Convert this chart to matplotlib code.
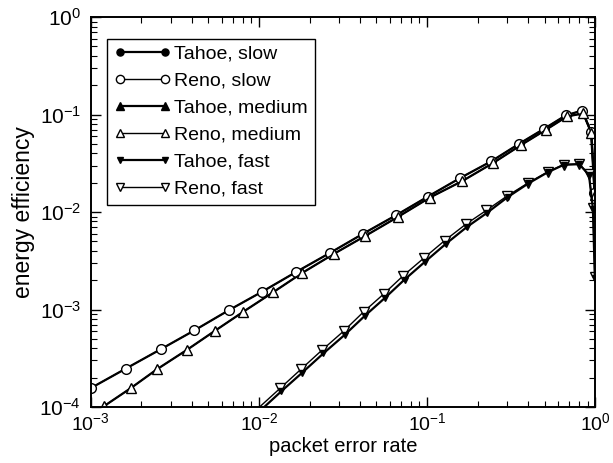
import matplotlib
matplotlib.use("Agg")
import matplotlib.pyplot as plt

plt.rcParams['font.family'] = ['Liberation Sans', 'DejaVu Sans']
plt.rcParams['mathtext.default'] = 'regular'

# valores (eixos log-log)
reno_slow_x = [1.0e-3, 1.62e-3, 2.6e-3, 4.13e-3, 6.6e-3, 1.05e-2, 1.66e-2, 2.64e-2, 4.17e-2,
               6.56e-2, 0.101, 0.157, 0.241, 0.351, 0.497, 0.667, 0.834, 0.944, 0.99]
reno_slow_y = [1.56e-4, 2.48e-4, 3.9e-4, 6.1e-4, 9.8e-4, 1.53e-3, 2.42e-3, 3.8e-3, 6.0e-3,
               9.3e-3, 1.44e-2, 2.23e-2, 3.32e-2, 4.99e-2, 7.16e-2, 9.8e-2, 0.110, 0.067, 0.0158]

# Tahoe slow fica escondido debaixo de Reno slow
tahoe_slow_x = reno_slow_x
tahoe_slow_y = reno_slow_y

reno_med_x = [1.2e-3, 1.73e-3, 2.48e-3, 3.73e-3, 5.48e-3, 8.05e-3, 1.22e-2, 1.80e-2, 2.79e-2,
              4.3e-2, 6.7e-2, 0.104, 0.162, 0.248, 0.36, 0.51, 0.68, 0.85, 0.95, 0.995]
reno_med_y = [1.02e-4, 1.56e-4, 2.44e-4, 3.85e-4, 6.05e-4, 9.45e-4, 1.51e-3, 2.36e-3, 3.72e-3,
              5.7e-3, 8.9e-3, 1.41e-2, 2.08e-2, 3.2e-2, 4.84e-2, 7.0e-2, 9.57e-2, 0.103, 0.064, 0.0151]

tahoe_med_x = reno_med_x
tahoe_med_y = reno_med_y

reno_fast_x = [8.4e-3, 1.34e-2, 1.78e-2, 2.38e-2, 3.19e-2, 4.19e-2, 5.54e-2, 7.23e-2, 9.55e-2,
               0.127, 0.170, 0.225, 0.299, 0.401, 0.524, 0.649, 0.803, 0.918, 0.969, 0.995]
reno_fast_y = [7.5e-5, 1.56e-4, 2.44e-4, 3.85e-4, 6.0e-4, 9.45e-4, 1.45e-3, 2.23e-3, 3.36e-3,
               5.08e-3, 7.5e-3, 1.04e-2, 1.46e-2, 2.0e-2, 2.59e-2, 3.07e-2, 3.12e-2, 2.43e-2, 1.09e-2, 2.15e-3]

tahoe_fast_x = [8.6e-3, 1.36e-2, 1.81e-2, 2.42e-2, 3.24e-2, 4.26e-2, 5.63e-2, 7.35e-2, 9.7e-2,
                0.129, 0.172, 0.227, 0.301, 0.401, 0.524, 0.649, 0.803, 0.918, 0.969, 0.995]
tahoe_fast_y = [7.0e-5, 1.45e-4, 2.25e-4, 3.55e-4, 5.5e-4, 8.6e-4, 1.32e-3, 2.03e-3, 3.08e-3,
                4.7e-3, 7.0e-3, 9.8e-3, 1.42e-2, 1.97e-2, 2.57e-2, 3.05e-2, 3.1e-2, 2.4e-2, 1.08e-2, 2.1e-3]

fig = plt.figure(figsize=(6.13, 4.63), dpi=100)
ax = fig.add_axes([0.148, 0.121, 0.823, 0.842])

ms = 7
h1, = ax.plot(tahoe_slow_x, tahoe_slow_y, '-o', color='black', lw=1.6, ms=ms - 1, label='Tahoe, slow')
h3, = ax.plot(tahoe_med_x, tahoe_med_y, '-^', color='black', lw=1.6, ms=ms - 1, label='Tahoe, medium')
h2, = ax.plot(reno_slow_x, reno_slow_y, '-o', color='black', mfc='white', lw=1.0, ms=ms, label='Reno, slow')
h4, = ax.plot(reno_med_x, reno_med_y, '-^', color='black', mfc='white', lw=1.0, ms=ms, label='Reno, medium')
h6, = ax.plot(reno_fast_x, reno_fast_y, '-v', color='black', mfc='white', lw=1.0, ms=ms, label='Reno, fast')
h5, = ax.plot(tahoe_fast_x, tahoe_fast_y, '-v', color='black', lw=1.6, ms=ms - 2.5, label='Tahoe, fast')

ax.set_xscale('log')
ax.set_yscale('log')
ax.set_xlim(1e-3, 1)
ax.set_ylim(1e-4, 1)

ax.set_xlabel('packet error rate', fontsize=14.5, labelpad=2)
ax.set_ylabel('energy efficiency', fontsize=16.5, labelpad=3)

ax.tick_params(which='both', direction='in', top=True, right=True)
ax.tick_params(axis='x', pad=4, labelsize=14)
ax.tick_params(axis='y', pad=7, labelsize=15)
ax.tick_params(which='major', length=7, width=1)
ax.tick_params(which='minor', length=4, width=0.8)
for s in ax.spines.values():
    s.set_linewidth(1.4)

leg = ax.legend(handles=[h1, h2, h3, h4, h5, h6], loc='upper left', bbox_to_anchor=(0.033, 0.945),
                numpoints=2, handlelength=2.9, handletextpad=0.2, fontsize=14,
                fancybox=False, edgecolor='black', framealpha=1, borderpad=0.35, labelspacing=0.48,
                borderaxespad=0, markerscale=0.85)
leg.get_frame().set_linewidth(1.0)

plt.savefig('out.png', dpi=100)
